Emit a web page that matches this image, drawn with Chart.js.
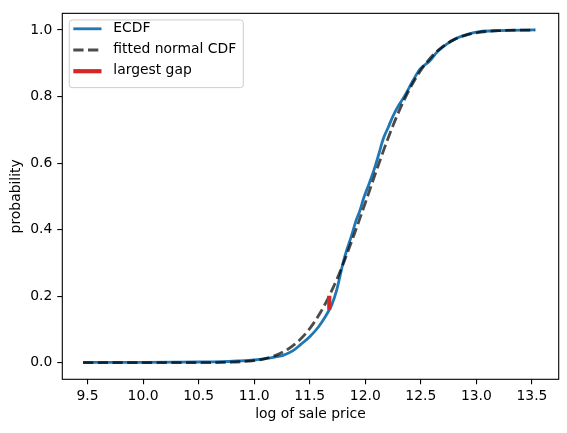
<!DOCTYPE html>
<html>
<head>
<meta charset="utf-8">
<script src="https://cdn.jsdelivr.net/npm/chart.js@4.4.1/dist/chart.umd.min.js"></script>
<style>
  html, body { margin: 0; padding: 0; background: #fff; }
  #wrap { width: 567px; height: 433px; }
</style>
</head>
<body>
<div id="wrap"><canvas id="c" width="567" height="433"></canvas></div>
<script>
// ECDF of log sale price
const ecdfX = [9.46, 10.0, 10.3, 10.5, 10.7, 10.85, 11.0, 11.1, 11.2, 11.26, 11.35, 11.42, 11.5, 11.58, 11.64, 11.676, 11.7, 11.74, 11.77, 11.8, 11.83, 11.87, 11.92, 11.95, 11.985, 12.02, 12.073, 12.12, 12.162, 12.21, 12.252, 12.30, 12.357, 12.43, 12.492, 12.58, 12.65, 12.73, 12.82, 12.92, 13.03, 13.2, 13.53];
const ecdfY = [0.0007, 0.001, 0.0015, 0.002, 0.003, 0.005, 0.008, 0.012, 0.018, 0.022, 0.036, 0.055, 0.078, 0.108, 0.138, 0.159, 0.175, 0.215, 0.256, 0.30, 0.335, 0.375, 0.43, 0.455, 0.494, 0.525, 0.574, 0.625, 0.673, 0.71, 0.743, 0.773, 0.803, 0.848, 0.882, 0.907, 0.935, 0.957, 0.975, 0.987, 0.995, 0.998, 1.0];

// fitted normal CDF
const normX = [9.46, 10.0, 10.5, 10.8, 11.0, 11.1, 11.2, 11.3, 11.4, 11.5, 11.6, 11.676, 11.75, 11.8, 11.9, 12.0, 12.1, 12.2, 12.3, 12.4, 12.5, 12.6, 12.7, 12.8, 12.9, 13.0, 13.2, 13.53];
const normY = [0.0, 0.0, 0.0001, 0.0015, 0.0064, 0.0124, 0.0228, 0.0396, 0.0653, 0.1024, 0.153, 0.201, 0.255, 0.296, 0.385, 0.480, 0.577, 0.670, 0.753, 0.823, 0.879, 0.921, 0.951, 0.971, 0.984, 0.9916, 0.998, 0.9999];

// largest gap
const gapX = [11.676, 11.676];
const gapY = [0.159, 0.201];

const xTicks = [9.5, 10.0, 10.5, 11.0, 11.5, 12.0, 12.5, 13.0, 13.5];
const yTicks = [0.0, 0.2, 0.4, 0.6, 0.8, 1.0];

const labels = ['ECDF', 'fitted normal CDF', 'largest gap'];

const FONT = { family: 'DejaVu Sans', size: 13.9 };
const toPts = (xs, ys) => xs.map((x, i) => ({ x: x, y: ys[i] }));

const framePlugin = {
  id: 'frame',
  afterDraw(chart) {
    const { ctx, chartArea: a } = chart;
    ctx.save();
    ctx.strokeStyle = '#000';
    ctx.lineWidth = 1.1;
    ctx.strokeRect(a.left, a.top, a.right - a.left, a.bottom - a.top);
    ctx.restore();
  }
};

const legendPlugin = {
  id: 'mplLegend',
  afterDraw(chart) {
    const ctx = chart.ctx;
    const a = chart.chartArea;
    const x0 = a.left + 7, y0 = a.top + 6.6, w = 174, h = 67.7, r = 2.8;
    ctx.save();
    ctx.beginPath();
    ctx.moveTo(x0 + r, y0);
    ctx.lineTo(x0 + w - r, y0);
    ctx.arcTo(x0 + w, y0, x0 + w, y0 + r, r);
    ctx.lineTo(x0 + w, y0 + h - r);
    ctx.arcTo(x0 + w, y0 + h, x0 + w - r, y0 + h, r);
    ctx.lineTo(x0 + r, y0 + h);
    ctx.arcTo(x0, y0 + h, x0, y0 + h - r, r);
    ctx.lineTo(x0, y0 + r);
    ctx.arcTo(x0, y0, x0 + r, y0, r);
    ctx.closePath();
    ctx.fillStyle = 'rgba(255,255,255,0.8)';
    ctx.fill();
    ctx.strokeStyle = '#cccccc';
    ctx.lineWidth = 1;
    ctx.stroke();
    const rows = [28.8, 50.0, 71.2];
    chart.data.datasets.forEach((ds, i) => {
      const yy = rows[i];
      ctx.beginPath();
      ctx.strokeStyle = ds.borderColor;
      ctx.lineWidth = ds.borderWidth;
      ctx.setLineDash(ds.borderDash || []);
      ctx.lineCap = 'butt';
      ctx.moveTo(73.3, yy);
      ctx.lineTo(101.5, yy);
      ctx.stroke();
      ctx.setLineDash([]);
      ctx.fillStyle = '#000';
      ctx.font = FONT.size + 'px "DejaVu Sans"';
      ctx.textBaseline = 'middle';
      ctx.textAlign = 'left';
      ctx.fillText(ds.label, 113.3, yy - 0.5);
    });
    ctx.restore();
  }
};

new Chart(document.getElementById('c'), {
  type: 'line',
  data: {
    datasets: [
      {
        label: labels[0],
        data: toPts(ecdfX, ecdfY),
        borderColor: '#1f77b4',
        borderWidth: 2.8,
        pointRadius: 0,
        cubicInterpolationMode: 'monotone',
        order: 3
      },
      {
        label: labels[1],
        data: toPts(normX, normY),
        borderColor: 'rgba(0,0,0,0.7)',
        borderWidth: 2.8,
        borderDash: [10.3, 4.4],
        pointRadius: 0,
        cubicInterpolationMode: 'monotone',
        order: 2
      },
      {
        label: labels[2],
        data: toPts(gapX, gapY),
        borderColor: '#d62728',
        borderWidth: 4.2,
        borderCapStyle: 'butt',
        pointRadius: 0,
        order: 1
      }
    ]
  },
  options: {
    responsive: false,
    animation: false,
    devicePixelRatio: 1,
    layout: { padding: { left: 0, right: 8.3, top: 10.7, bottom: 0 } },
    plugins: {
      legend: { display: false },
      tooltip: { enabled: false }
    },
    scales: {
      x: {
        type: 'linear',
        min: 9.273,
        max: 13.741,
        afterFit(s) { s.height = 53.7; },
        afterBuildTicks(s) { s.ticks = xTicks.map(v => ({ value: v })); },
        border: { display: false },
        grid: { display: true, drawOnChartArea: false, drawTicks: true, tickLength: 5, color: '#000', lineWidth: 1.1 },
        ticks: {
          color: '#000', font: FONT, padding: 4, maxRotation: 0, autoSkip: false,
          callback: v => Number(v).toFixed(1)
        },
        title: { display: true, text: 'log of sale price', color: '#000', font: FONT, padding: { top: 0, bottom: 10.3 } }
      },
      y: {
        type: 'linear',
        min: -0.05,
        max: 1.05,
        afterFit(s) { s.width = 62.3; },
        afterBuildTicks(s) { s.ticks = yTicks.map(v => ({ value: v })); },
        border: { display: false },
        grid: { display: true, drawOnChartArea: false, drawTicks: true, tickLength: 5, color: '#000', lineWidth: 1.1 },
        ticks: {
          color: '#000', font: FONT, padding: 5, autoSkip: false,
          callback: v => Number(v).toFixed(1)
        },
        title: { display: true, text: 'probability', color: '#000', font: FONT, padding: { top: 8.5, bottom: 0 } }
      }
    }
  },
  plugins: [framePlugin, legendPlugin]
});
</script>
</body>
</html>
